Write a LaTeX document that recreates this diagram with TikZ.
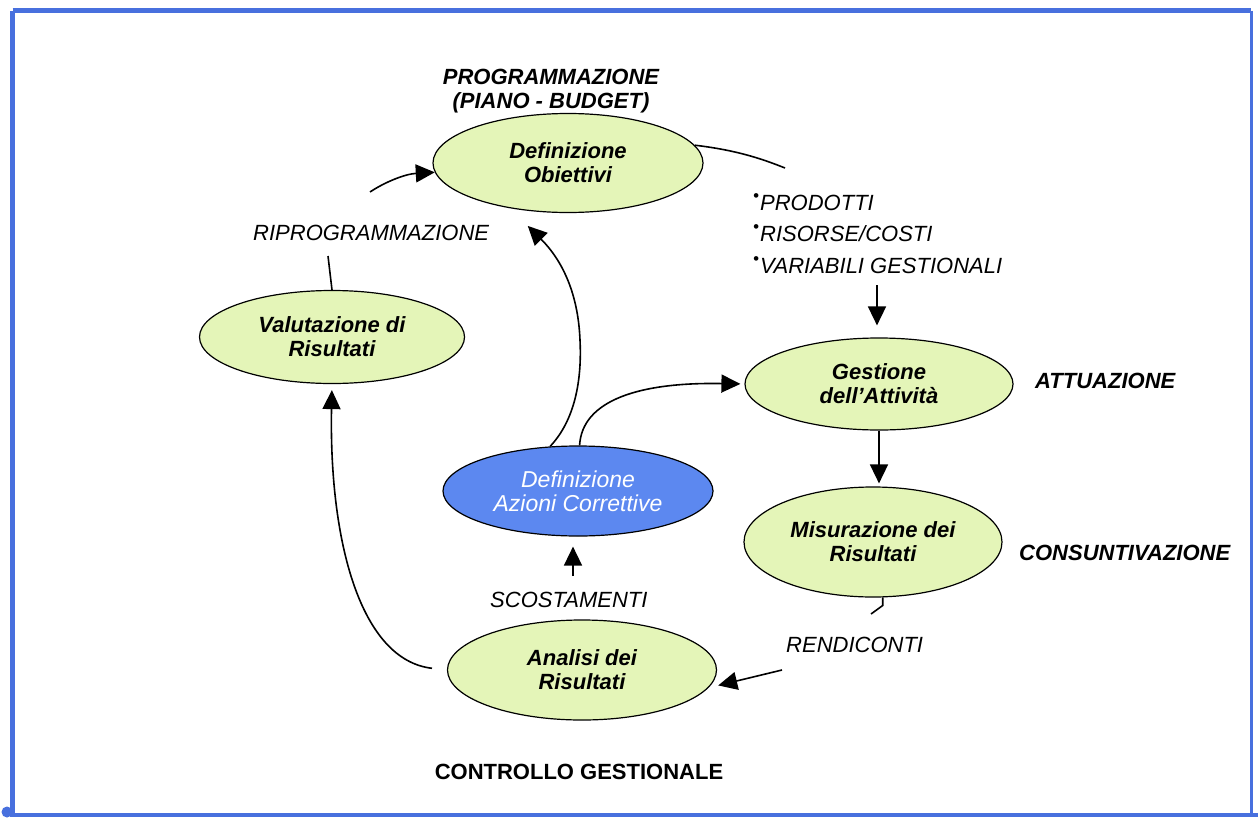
\documentclass[tikz,border=0pt]{standalone}
\usepackage{fontspec}
\setmainfont{Liberation Sans}
\usetikzlibrary{shapes.geometric,arrows.meta}
\definecolor{frameblue}{RGB}{72,112,222}
\definecolor{phasegreen}{RGB}{228,245,184}
\definecolor{fixblue}{RGB}{92,136,240}
\begin{document}
\begin{tikzpicture}[x=1pt,y=-1pt,
  phase/.style={ellipse,draw=black,line width=1.2pt,fill=phasegreen,inner sep=0pt,
    align=center,font=\fontsize{22}{24}\selectfont\bfseries\itshape},
  fixphase/.style={phase,fill=fixblue,text=white,
    font=\fontsize{23}{24}\selectfont\itshape},
  lbl/.style={inner sep=0pt,font=\fontsize{22}{24}\selectfont\itshape},
  blbl/.style={inner sep=0pt,font=\fontsize{22}{24}\selectfont\bfseries\itshape},
  flow/.style={line width=1.6pt,black},
  arr/.style={flow,-{Triangle[length=19pt,width=18pt]}}]

% page and blue frame
\useasboundingbox (0,0) rectangle (1258,819);
\fill[white] (0,0) rectangle (1258,819);
\draw[frameblue,line width=5pt] (12.5,10.5) -- (1251,10.5);
\draw[frameblue,line width=4.5pt] (12.5,10.5) -- (12.5,815);
\draw[frameblue,line width=4.5pt] (10,815) -- (1258,815);
\draw[frameblue,line width=3pt] (1251,10.5) -- (1251,815);
\fill[frameblue] (7,812) circle (5.5);

% process phases
\node[phase,minimum width=270pt,minimum height=99pt] (obj) at (568,163) {Definizione\\Obiettivi};
\node[phase,minimum width=265pt,minimum height=93pt] (val) at (332,337) {Valutazione di\\Risultati};
\node[phase,minimum width=268pt,minimum height=92pt] (ges) at (879,384) {Gestione\\dell'Attività};
\node[fixphase,minimum width=270pt,minimum height=90pt] (cor) at (578,491) {Definizione\\Azioni Correttive};
\node[phase,minimum width=258pt,minimum height=110pt] (mis) at (873,542) {Misurazione dei\\Risultati};
\node[phase,minimum width=269pt,minimum height=100pt] (ana) at (582,670) {Analisi dei\\Risultati};

% stage captions
\node[blbl,align=center] (prog) at (551,91) {PROGRAMMAZIONE\\(PIANO - BUDGET)};
\node[blbl,anchor=base west] (attu) at (1035,388) {ATTUAZIONE};
\node[blbl,anchor=base west] (cons) at (1019,560) {CONSUNTIVAZIONE};
\node[inner sep=0pt,font=\fontsize{22}{24}\selectfont\bfseries] (ctrl) at (579,772) {CONTROLLO GESTIONALE};

% flow labels
\node[lbl,anchor=base west] (ripro) at (253,240) {RIPROGRAMMAZIONE};
\node[lbl,anchor=base west] (scost) at (490,607) {SCOSTAMENTI};
\node[lbl,anchor=base west] (rend) at (786,652) {RENDICONTI};
\newcommand{\listdot}{\raisebox{8.5pt}{\fontsize{17}{17}\selectfont\textbullet}\kern1pt}
\node[lbl,anchor=base west] (item1) at (753,210) {\listdot PRODOTTI};
\node[lbl,anchor=base west] (item2) at (753,241) {\listdot RISORSE/COSTI};
\node[lbl,anchor=base west] (item3) at (753,273) {\listdot VARIABILI GESTIONALI};

% free ends of the connectors
\coordinate (objtail) at (785,168);
\coordinate (listhead) at (877,285);
\coordinate (mistail) at (871,614);
\coordinate (rendhead) at (782,670);
\coordinate (scohead) at (573,576);
\coordinate (valtail) at (328,256);
\coordinate (riprohead) at (370,192);

% connectors
\draw[flow] (obj.8) .. controls (735,150) and (760,158) .. (objtail);
\draw[arr,shorten >=12pt] (listhead) -- (listhead |- ges.north);
\draw[arr,shorten >=3pt] (ges.south) -- (ges.south |- mis.north);
\draw[flow] (mis.-80) -- ++(0,8) -- (mistail);
\draw[arr,shorten >=10pt] (rendhead) -- (ana.-8);
\draw[arr,shorten <=15pt,shorten >=6pt] (ana.west) .. controls (360,660) and (329,540) .. (val.south);
\draw[arr,shorten >=10pt] (scohead) -- (scohead |- cor.south);
\draw[arr,shorten >=25pt] (cor.122) .. controls (575,420) and (582,380) .. (580,340)
  .. controls (578,290) and (560,258) .. (obj.218);
\draw[arr,shorten >=4pt] (cor.88) .. controls (582,400) and (640,382) .. (ges.west);
\draw[flow] (val.north) -- (valtail);
\draw[arr] (riprohead) .. controls (385,182) and (405,174) .. (obj.184);
\end{tikzpicture}
\end{document}
